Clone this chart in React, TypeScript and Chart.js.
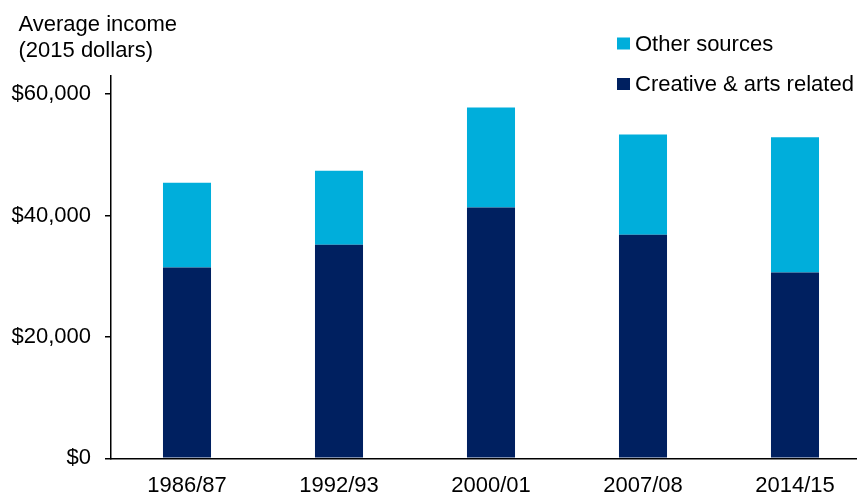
import React, { useEffect, useRef } from "react";
import { Chart, registerables } from "chart.js";

Chart.register(...registerables);

const categories = ["1986/87", "1992/93", "2000/01", "2007/08", "2014/15"];
const creativeArts = [31450, 35200, 41350, 36850, 30600];
const otherSources = [13950, 12200, 16450, 16500, 22300];
const yTickValues = [0, 20000, 40000, 60000];
const titleLines = ["Average income", "(2015 dollars)"];

const FONT = '"Liberation Sans", Arial, sans-serif';
const DARK = "#002060";
const LIGHT = "#00AEDB";

const overlayPlugin = {
  id: "overlay",
  afterDraw(chart: any) {
    const ctx = chart.ctx;
    ctx.save();
    ctx.font = `22px ${FONT}`;
    ctx.fillStyle = "#000";
    ctx.textBaseline = "alphabetic";
    ctx.textAlign = "left";
    ctx.fillText(titleLines[0], 18.5, 31);
    ctx.fillText(titleLines[1], 18.5, 56.5);
    // legend (reverse order, like stacked)
    const ds = chart.data.datasets;
    const items = [ds[1], ds[0]];
    const rows = [
      { sq: 37.5, base: 51 },
      { sq: 78, base: 90.5 },
    ];
    items.forEach((d: any, i: number) => {
      ctx.fillStyle = d.backgroundColor;
      ctx.fillRect(617, rows[i].sq, 13, 12);
      ctx.fillStyle = "#000";
      ctx.fillText(d.label, 635, rows[i].base);
    });
    ctx.restore();
  },
};

export default function App() {
  const ref = useRef<HTMLCanvasElement | null>(null);
  useEffect(() => {
    if (!ref.current) return;
    const chart = new Chart(ref.current, {
      type: "bar",
      data: {
        labels: categories,
        datasets: [
          {
            label: "Creative & arts related",
            data: creativeArts,
            backgroundColor: DARK,
            borderWidth: 0,
            barPercentage: 0.316,
            categoryPercentage: 1,
          },
          {
            label: "Other sources",
            data: otherSources,
            backgroundColor: LIGHT,
            borderWidth: 0,
            barPercentage: 0.316,
            categoryPercentage: 1,
          },
        ],
      },
      options: {
        responsive: false,
        animation: false,
        layout: { padding: { top: 76, left: 0, right: 0, bottom: 0 } },
        plugins: {
          legend: { display: false },
          title: { display: false },
          tooltip: { enabled: false },
        },
        scales: {
          x: {
            stacked: true,
            grid: { display: false, drawTicks: false },
            border: { display: true, color: "#000", width: 1.5 },
            ticks: {
              color: "#000",
              font: { family: FONT, size: 22 },
              padding: 14,
              maxRotation: 0,
            },
            afterFit: (s: any) => {
              s.height = 37.7;
            },
          },
          y: {
            stacked: true,
            min: 0,
            max: 63000,
            grid: {
              display: true,
              drawOnChartArea: false,
              drawTicks: true,
              tickLength: 6,
              color: "#000",
              lineWidth: 1.5,
            },
            border: { display: true, color: "#000", width: 1.5 },
            ticks: {
              color: "#000",
              font: { family: FONT, size: 22 },
              padding: 14,
              callback: (v: any) => "$" + Number(v).toLocaleString("en-US"),
            },
            afterBuildTicks: (s: any) => {
              s.ticks = yTickValues.map((v) => ({ value: v }));
            },
            afterFit: (s: any) => {
              s.width = 111;
            },
          },
        },
      },
      plugins: [overlayPlugin],
    });
    return () => chart.destroy();
  }, []);

  return (
    <div
      style={{
        position: "fixed",
        left: 0,
        top: 0,
        width: 857,
        height: 496,
        overflow: "hidden",
        background: "#fff",
      }}
    >
      <canvas ref={ref} width={871} height={496} style={{ display: "block" }} />
    </div>
  );
}
